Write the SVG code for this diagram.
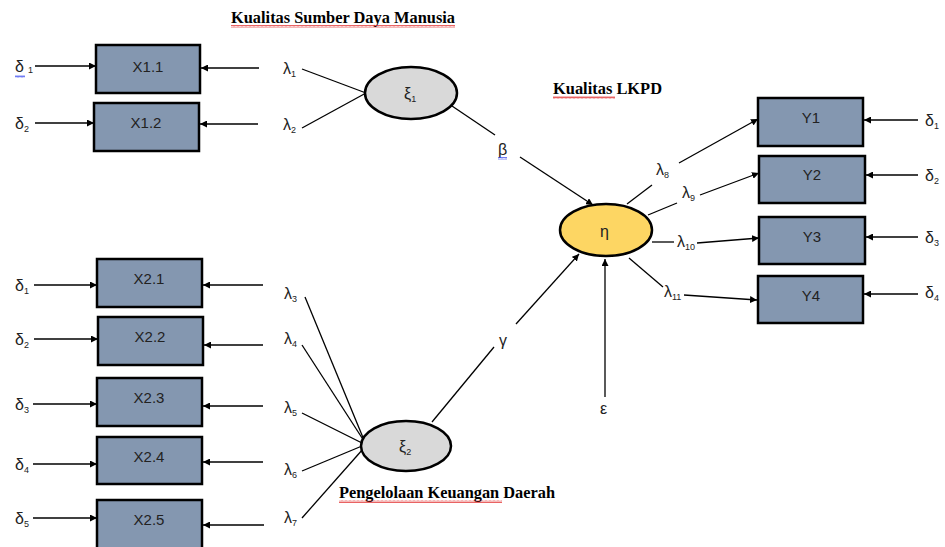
<svg xmlns="http://www.w3.org/2000/svg" width="945" height="547" viewBox="0 0 945 547">
<defs>
<marker id="ah" viewBox="0 0 10 10" refX="10" refY="5" markerWidth="7" markerHeight="7" orient="auto" markerUnits="userSpaceOnUse">
<path d="M0,0 L10,5 L0,10 z" fill="#000"/>
</marker>
<pattern id="wr" width="4" height="3" patternUnits="userSpaceOnUse">
<path d="M0,2.5 L1,0.5 L2,2.5 L3,0.5 L4,2.5" fill="none" stroke="#e02020" stroke-width="0.7"/>
</pattern>
<pattern id="wb" width="4" height="3" patternUnits="userSpaceOnUse">
<path d="M0,2.5 L1,0.5 L2,2.5 L3,0.5 L4,2.5" fill="none" stroke="#3344ee" stroke-width="0.7"/>
</pattern>
</defs>
<style>
.box{fill:#8497B0;stroke:#000;stroke-width:2.5}
.lat{fill:#D9D9D9;stroke:#000;stroke-width:2.5}
.eta{fill:#FDD663;stroke:#000;stroke-width:2.5}
.lbl{font-family:"Liberation Sans",Arial,sans-serif;font-size:15px;fill:#222;text-anchor:middle}
.g{font-family:"Liberation Sans",Arial,sans-serif;font-size:16px;fill:#222}
.sub{font-size:9px}
.ttl{font-family:"Liberation Serif","Times New Roman",serif;font-size:17px;font-weight:bold;fill:#000}
.c{stroke:#000;stroke-width:1.3;fill:none}
.a{stroke:#000;stroke-width:1.3;fill:none;marker-end:url(#ah)}
</style>
<rect width="945" height="547" fill="#fff"/>

<g id="titles">
<text class="ttl" x="231" y="23" textLength="224" lengthAdjust="spacingAndGlyphs">Kualitas Sumber Daya Manusia</text>
<rect x="231" y="25" width="224" height="3" fill="url(#wr)"/>
<text class="ttl" x="553" y="94" textLength="109" lengthAdjust="spacingAndGlyphs">Kualitas LKPD</text>
<rect x="553" y="96" width="62" height="3" fill="url(#wr)"/>
<text class="ttl" x="339" y="498" textLength="216" lengthAdjust="spacingAndGlyphs">Pengelolaan Keuangan Daerah</text>
<rect x="339" y="500" width="163" height="3" fill="url(#wr)"/>
</g>

<g id="connectors">
<line class="a" x1="35" y1="66" x2="96" y2="66"/>
<line class="a" x1="35" y1="123" x2="94" y2="123"/>
<line class="a" x1="34" y1="285" x2="97" y2="285"/>
<line class="a" x1="34" y1="339" x2="98" y2="339"/>
<line class="a" x1="33" y1="404" x2="97" y2="404"/>
<line class="a" x1="33" y1="464" x2="97" y2="464"/>
<line class="a" x1="33" y1="518" x2="97" y2="518"/>
<line class="a" x1="259" y1="68" x2="201" y2="68"/>
<line class="a" x1="258" y1="124" x2="200" y2="124"/>
<line class="a" x1="263" y1="285" x2="203" y2="285"/>
<line class="a" x1="263" y1="345" x2="204" y2="345"/>
<line class="a" x1="263" y1="406" x2="203" y2="406"/>
<line class="a" x1="263" y1="462" x2="203" y2="462"/>
<line class="a" x1="264" y1="525" x2="203" y2="525"/>
<line class="c" x1="302" y1="69" x2="366" y2="93"/>
<line class="c" x1="302" y1="128" x2="366" y2="93"/>
<line class="c" x1="305" y1="297" x2="364" y2="440"/>
<line class="c" x1="302" y1="345" x2="364" y2="441"/>
<line class="c" x1="302" y1="413" x2="362" y2="443"/>
<line class="c" x1="302" y1="471" x2="362" y2="446"/>
<line class="c" x1="302" y1="518" x2="363" y2="449"/>
<line class="c" x1="452" y1="106" x2="495" y2="135"/>
<line class="a" x1="520" y1="157" x2="593" y2="205"/>
<line class="c" x1="432" y1="422" x2="494" y2="347"/>
<line class="a" x1="516" y1="324" x2="579" y2="254"/>
<line class="a" x1="605" y1="397" x2="605" y2="259"/>
<line class="c" x1="627" y1="204" x2="652" y2="185"/>
<line class="a" x1="679" y1="163" x2="758" y2="119"/>
<line class="c" x1="648" y1="215" x2="677" y2="203"/>
<line class="a" x1="700" y1="195" x2="759" y2="173"/>
<line class="c" x1="652" y1="242" x2="674" y2="242"/>
<line class="a" x1="697" y1="243" x2="759" y2="238"/>
<line class="c" x1="629" y1="258" x2="663" y2="287"/>
<line class="a" x1="684" y1="295" x2="757" y2="300"/>
<line class="a" x1="918" y1="120" x2="864" y2="120"/>
<line class="a" x1="918" y1="175" x2="866" y2="175"/>
<line class="a" x1="918" y1="237" x2="866" y2="237"/>
<line class="a" x1="918" y1="294" x2="864" y2="294"/>
</g>

<g id="X1.1"><rect class="box" x="96" y="45" width="104" height="48"/><text class="lbl" x="148" y="72">X1.1</text></g>
<g id="X1.2"><rect class="box" x="94" y="103" width="105" height="48"/><text class="lbl" x="146" y="128">X1.2</text></g>
<g id="X2.1"><rect class="box" x="97" y="259" width="105" height="48"/><text class="lbl" x="149" y="284">X2.1</text></g>
<g id="X2.2"><rect class="box" x="98" y="317" width="105" height="48"/><text class="lbl" x="150" y="342">X2.2</text></g>
<g id="X2.3"><rect class="box" x="97" y="378" width="105" height="48"/><text class="lbl" x="149" y="403">X2.3</text></g>
<g id="X2.4"><rect class="box" x="97" y="437" width="105" height="47"/><text class="lbl" x="149" y="462">X2.4</text></g>
<g id="X2.5"><rect class="box" x="97" y="500" width="105" height="52"/><text class="lbl" x="149" y="525">X2.5</text></g>

<g id="Y1"><rect class="box" x="758" y="98" width="105" height="48"/><text class="lbl" x="811" y="123">Y1</text></g>
<g id="Y2"><rect class="box" x="759" y="156" width="106" height="47"/><text class="lbl" x="812" y="180">Y2</text></g>
<g id="Y3"><rect class="box" x="759" y="217" width="106" height="47"/><text class="lbl" x="812" y="242">Y3</text></g>
<g id="Y4"><rect class="box" x="758" y="276" width="105" height="47"/><text class="lbl" x="811" y="301">Y4</text></g>

<g id="xi1"><ellipse class="lat" cx="411" cy="93" rx="46" ry="26"/><text class="g" x="404" y="99">ξ<tspan class="sub" dy="3">1</tspan></text></g>
<g id="xi2"><ellipse class="lat" cx="406" cy="446" rx="45" ry="25"/><text class="g" x="399" y="452">ξ<tspan class="sub" dy="3">2</tspan></text></g>
<g id="eta"><ellipse class="eta" cx="606" cy="230" rx="46" ry="26"/><text class="g" x="600" y="237">η</text></g>

<g id="labels">
<text class="g" x="15" y="72">δ<tspan class="sub" dx="4" dy="1">1</tspan></text>
<rect x="15" y="75" width="10" height="3" fill="url(#wb)"/>
<text class="g" x="15" y="129">δ<tspan class="sub" dy="3">2</tspan></text>
<text class="g" x="15" y="291">δ<tspan class="sub" dy="3">1</tspan></text>
<text class="g" x="15" y="345">δ<tspan class="sub" dy="3">2</tspan></text>
<text class="g" x="15" y="410">δ<tspan class="sub" dy="3">3</tspan></text>
<text class="g" x="15" y="470">δ<tspan class="sub" dy="3">4</tspan></text>
<text class="g" x="15" y="524">δ<tspan class="sub" dy="3">5</tspan></text>

<text class="g" x="283" y="74">λ<tspan class="sub" dy="3">1</tspan></text>
<text class="g" x="283" y="130">λ<tspan class="sub" dy="3">2</tspan></text>
<text class="g" x="284" y="299">λ<tspan class="sub" dy="3">3</tspan></text>
<text class="g" x="284" y="344">λ<tspan class="sub" dy="3">4</tspan></text>
<text class="g" x="284" y="413">λ<tspan class="sub" dy="3">5</tspan></text>
<text class="g" x="284" y="475">λ<tspan class="sub" dy="3">6</tspan></text>
<text class="g" x="284" y="523">λ<tspan class="sub" dy="3">7</tspan></text>

<text class="g" x="498" y="155">β</text>
<rect x="498" y="157" width="9" height="3" fill="url(#wb)"/>
<text class="g" x="499" y="346">γ</text>
<text class="g" x="600" y="414">ε</text>

<text class="g" x="656" y="175">λ<tspan class="sub" dy="3">8</tspan></text>
<text class="g" x="682" y="198">λ<tspan class="sub" dy="3">9</tspan></text>
<text class="g" x="677" y="247">λ<tspan class="sub" dy="3">10</tspan></text>
<text class="g" x="664" y="297">λ<tspan class="sub" dy="3">11</tspan></text>

<text class="g" x="925" y="126">δ<tspan class="sub" dy="3">1</tspan></text>
<text class="g" x="925" y="181">δ<tspan class="sub" dy="3">2</tspan></text>
<text class="g" x="925" y="243">δ<tspan class="sub" dy="3">3</tspan></text>
<text class="g" x="925" y="298">δ<tspan class="sub" dy="3">4</tspan></text>
</g>
</svg>
